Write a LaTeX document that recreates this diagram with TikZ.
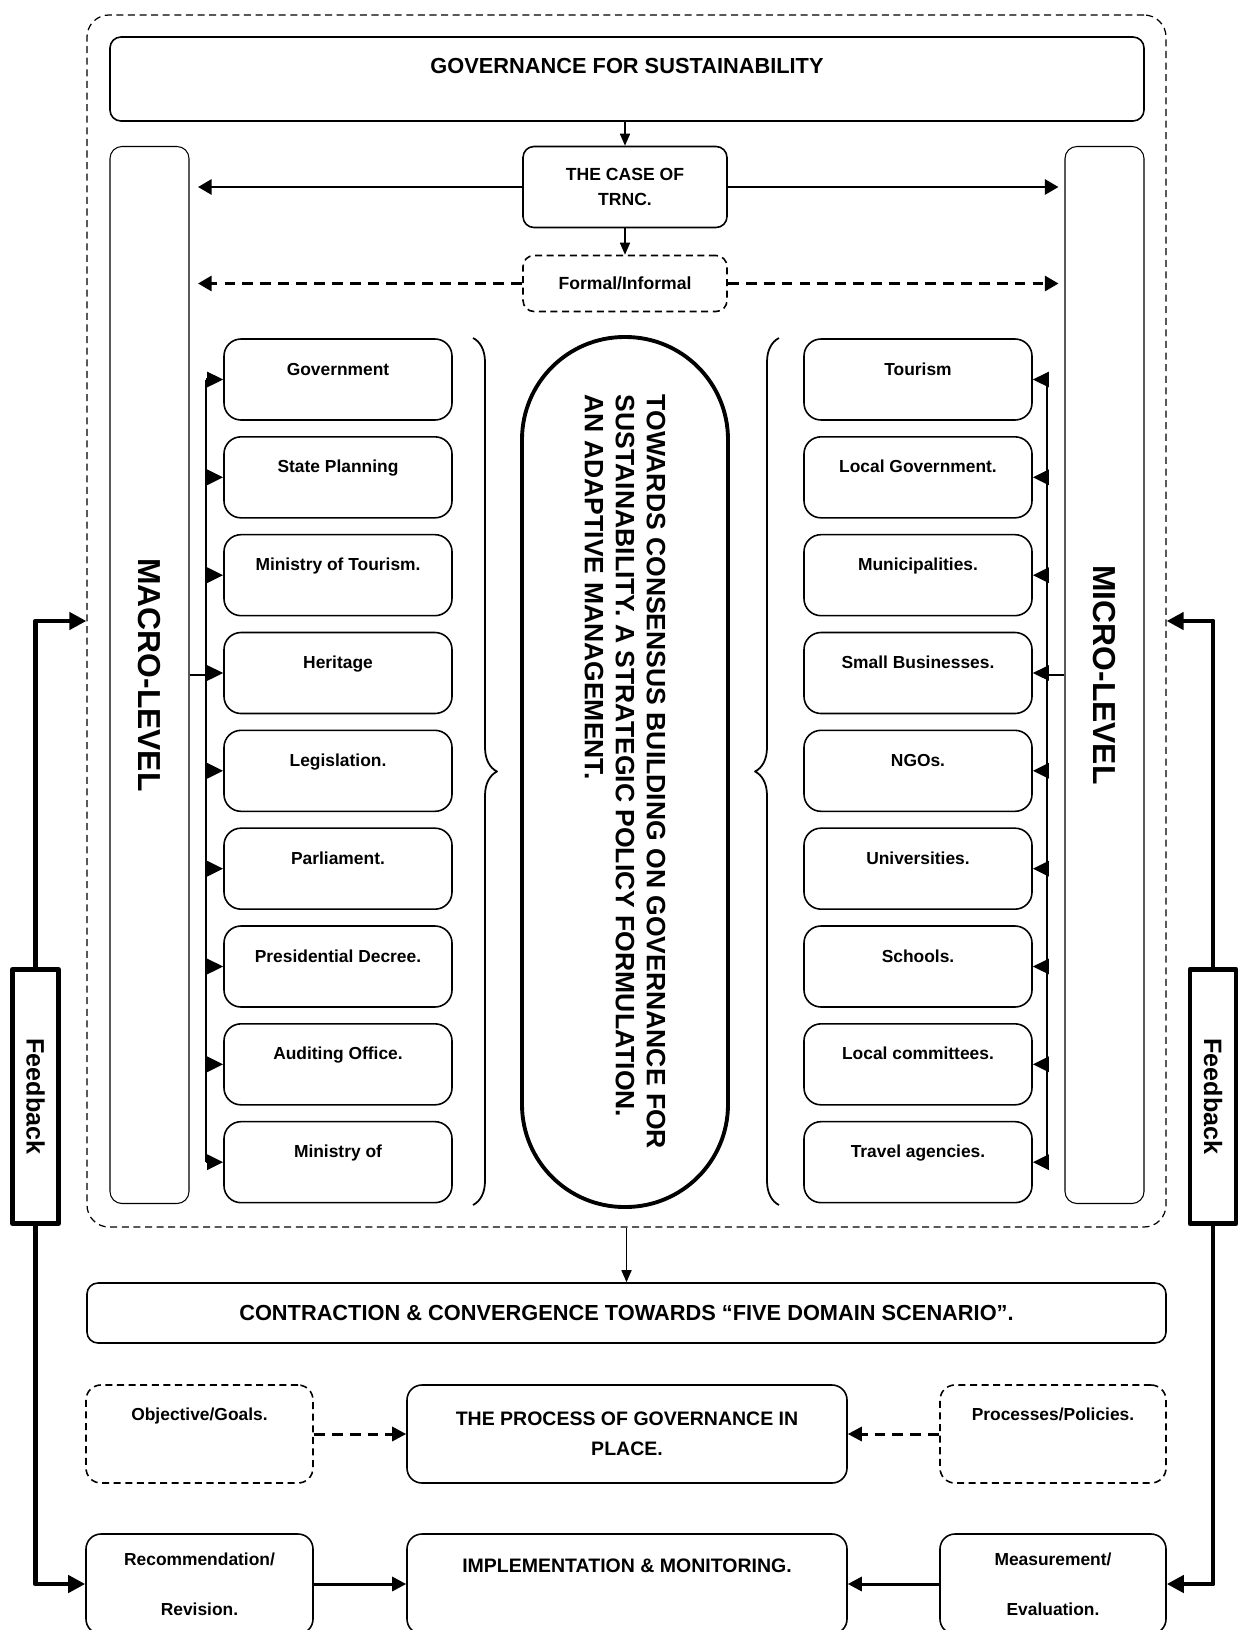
\documentclass[tikz,border=0pt]{standalone}
\usepackage{fontspec}
\setmainfont{Liberation Sans}
\usetikzlibrary{arrows.meta, positioning, calc, decorations.pathreplacing}

\begin{document}
\begin{tikzpicture}[
    x=0.2mm, y=-0.2mm, line join=round, font=\bfseries,
    panel/.style={draw, line width=0.9pt, rounded corners=#1, align=center},
    panel/.default=0.22cm,
    dpanel/.style={panel=#1, dash pattern=on 4pt off 2.6pt},
    dpanel/.default=0.3cm,
    item/.style={panel=0.34cm, minimum width=4.56cm, minimum height=1.62cm,
      font=\fontsize{9.9}{12}\selectfont\bfseries, text height=7pt, text depth=12pt},
    lvlbox/.style={draw, line width=0.6pt, rounded corners=0.24cm, minimum width=1.58cm,
      minimum height=21.14cm, font=\fontsize{18.1}{20}\selectfont\bfseries},
    fbbox/.style={draw, line width=2.8pt, minimum width=0.92cm, minimum height=5.08cm,
      font=\fontsize{14.3}{16}\selectfont\bfseries},
    arS/.style={-{Triangle[length=0.24cm, width=0.2cm]}, line width=0.9pt},
    arW/.style={-{Triangle[length=0.27cm, width=0.3cm]}, line width=1.5pt},
    arM/.style={-{Triangle[length=0.28cm, width=0.28cm]}, line width=1.7pt},
    busarr/.style={-{Triangle[length=0.32cm, width=0.3cm]}, line width=1.5pt},
    arF/.style={-{Triangle[length=0.34cm, width=0.34cm]}, line width=2.8pt},
    dsh/.style={dash pattern=on 6.2pt off 4pt},
    brc/.style={decorate, decoration={brace, amplitude=0.48cm}, line width=1pt},
  ]
  \useasboundingbox (0,0) rectangle (1246,1630);
  \clip (0,0) rectangle (1246,1630);

  % outer dashed frame + top
  \node[draw, line width=0.7pt, dash pattern=on 4pt off 2.6pt, rounded corners=0.44cm,
    minimum width=21.58cm, minimum height=24.24cm] (frame) at (626.5,621) {};
  \node[panel, minimum width=20.68cm, minimum height=1.68cm, text height=8.9pt, text depth=14.8pt,
    font=\fontsize{12.4}{14}\selectfont\bfseries] (gov) at (627,79) {GOVERNANCE FOR SUSTAINABILITY};
  \node[panel, minimum width=4.08cm, minimum height=1.62cm,
    font=\fontsize{10}{14.2}\selectfont\bfseries] (trnc) at (625,187) {THE CASE OF\\TRNC.};
  \node[dpanel=0.22cm, minimum width=4.08cm, minimum height=1.12cm,
    font=\fontsize{10}{12}\selectfont\bfseries] (formal) at (625,283.5) {Formal/Informal};

  % levels
  \node[lvlbox] (macro) at (149.5,675) {\rotatebox{-90}{MACRO-LEVEL}};
  \node[lvlbox] (micro) at (1104.5,675) {\rotatebox{-90}{MICRO-LEVEL}};

  % macro column
  \node[item] (m1) at (338,379.5) {Government};
  \node[item, below=0.305cm of m1] (m2) {State Planning};
  \node[item, below=0.305cm of m2] (m3) {Ministry of Tourism.};
  \node[item, below=0.305cm of m3] (m4) {Heritage};
  \node[item, below=0.305cm of m4] (m5) {Legislation.};
  \node[item, below=0.305cm of m5] (m6) {Parliament.};
  \node[item, below=0.305cm of m6] (m7) {Presidential Decree.};
  \node[item, below=0.305cm of m7] (m8) {Auditing Office.};
  \node[item, below=0.305cm of m8] (m9) {Ministry of};

  % micro column
  \node[item] (t1) at (918,379.5) {Tourism};
  \node[item, below=0.305cm of t1] (t2) {Local Government.};
  \node[item, below=0.305cm of t2] (t3) {Municipalities.};
  \node[item, below=0.305cm of t3] (t4) {Small Businesses.};
  \node[item, below=0.305cm of t4] (t5) {NGOs.};
  \node[item, below=0.305cm of t5] (t6) {Universities.};
  \node[item, below=0.305cm of t6] (t7) {Schools.};
  \node[item, below=0.305cm of t7] (t8) {Local committees.};
  \node[item, below=0.305cm of t8] (t9) {Travel agencies.};

  % centre capsule
  \node[draw, line width=2.2pt, rounded corners=2.05cm, rotate=-90, minimum width=17.4cm,
    minimum height=4.12cm, align=left, font=\fontsize{15.1}{17.6}\selectfont\bfseries] (caps) at (625,772)
    {TOWARDS CONSENSUS BUILDING ON GOVERNANCE FOR\\SUSTAINABILITY. A STRATEGIC POLICY FORMULATION.\\AN ADAPTIVE MANAGEMENT.};
  \draw[brc] (473,338) -- (473,1205);
  \draw[brc] (779,1205) -- (779,338);

  % feedback
  \node[fbbox] (fbL) at (35.5,1096.5) {\rotatebox{-90}{Feedback}};
  \node[fbbox] (fbR) at (1213,1096.5) {\rotatebox{-90}{Feedback}};

  % lower part
  \node[panel, minimum width=21.58cm, minimum height=1.2cm,
    font=\fontsize{12.4}{14}\selectfont\bfseries] (contr) at (626.5,1313)
    {CONTRACTION \& CONVERGENCE TOWARDS “FIVE DOMAIN SCENARIO”.};
  \node[dpanel, minimum width=4.54cm, minimum height=1.96cm, text height=7pt, text depth=22.7pt,
    font=\fontsize{9.9}{12}\selectfont\bfseries] (obj) at (199.5,1434) {Objective/Goals.};
  \node[panel=0.3cm, minimum width=8.8cm, minimum height=1.96cm,
    font=\fontsize{11.1}{17}\selectfont\bfseries] (proc) at (627,1434) {THE PROCESS OF GOVERNANCE IN\\PLACE.};
  \node[dpanel, minimum width=4.52cm, minimum height=1.96cm, text height=7pt, text depth=22.7pt,
    font=\fontsize{9.9}{12}\selectfont\bfseries] (pol) at (1053,1434) {Processes/Policies.};
  \node[panel=0.3cm, minimum width=4.54cm, minimum height=2cm,
    font=\fontsize{9.9}{28.3}\selectfont\bfseries] (rec) at (199.5,1584) {Recommendation/\\Revision.};
  \node[panel=0.3cm, minimum width=8.8cm, minimum height=2cm, text height=8pt, text depth=21.6pt,
    font=\fontsize{11.1}{13}\selectfont\bfseries] (impl) at (627,1584) {IMPLEMENTATION \& MONITORING.};
  \node[panel=0.3cm, minimum width=4.52cm, minimum height=2cm,
    font=\fontsize{9.9}{28.3}\selectfont\bfseries] (meas) at (1053,1584) {Measurement/\\Evaluation.};

  % arrows top
  \draw[arS] (trnc.north |- gov.south) -- (trnc.north);
  \draw[arS] (trnc.south) -- (formal.north);
  \draw[arW, shorten >=0.17cm] (trnc.west) -- (trnc.west -| macro.east);
  \draw[arW, shorten >=0.12cm] (trnc.east) -- (trnc.east -| micro.west);
  \draw[arW, dsh, shorten >=0.17cm] (formal.west) -- (formal.west -| macro.east);
  \draw[arW, dsh, shorten >=0.12cm] (formal.east) -- (formal.east -| micro.west);

  % buses
  \coordinate (busL) at (206,675);
  \coordinate (busR) at (1047,675);
  \draw[line width=1.5pt] (busL |- m1.west) -- (busL |- m9.west);
  \draw[line width=1.5pt] (busR |- t1.east) -- (busR |- t9.east);
  \draw[line width=1.2pt] (macro.east |- busL) -- (busL);
  \draw[line width=1.2pt] (micro.west |- busR) -- (busR);
  \foreach \i in {1,...,9} {
    \draw[busarr] (busL |- m\i.west) -- (m\i.west);
    \draw[busarr] (busR |- t\i.east) -- (t\i.east);
  }

  % arrows bottom
  \draw[arS] (frame.south) -- (contr.north);
  \draw[arM, dsh] (obj.east) -- (proc.west);
  \draw[arM, dsh] (pol.west) -- (proc.east);
  \draw[arM] (rec.east) -- (impl.west);
  \draw[arM] (meas.west) -- (impl.east);
  \draw[arF] (fbL.north) |- (frame.west);
  \draw[arF] (fbL.south) |- (rec.west);
  \draw[arF] (fbR.north) |- (frame.east);
  \draw[arF] (fbR.south) |- (meas.east);
\end{tikzpicture}
\end{document}
